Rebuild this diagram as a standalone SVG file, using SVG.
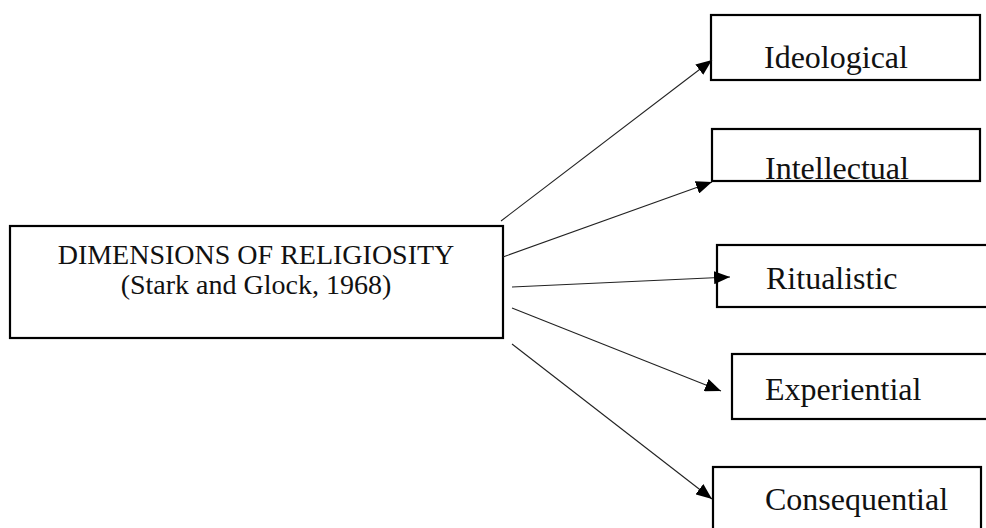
<svg xmlns="http://www.w3.org/2000/svg" width="986" height="528" viewBox="0 0 986 528">
<style>
.box{fill:#fff;stroke:#000;stroke-width:2.2}
.lbl{font-family:"Liberation Serif","Times New Roman",serif;font-size:32px;fill:#111}
.main{font-family:"Liberation Serif","Times New Roman",serif;font-size:28px;fill:#111;text-anchor:middle}
.conn{stroke:#222;stroke-width:1.1;fill:none;marker-end:url(#ah)}
</style>
<defs>
<marker id="ah" markerWidth="16" markerHeight="13" refX="16" refY="6.5" orient="auto" markerUnits="userSpaceOnUse">
<path d="M0,0 L16,6.5 L0,13 Z" fill="#000"/>
</marker>
</defs>
<rect width="986" height="528" fill="#fff"/>
<g id="main">
<rect class="box" x="10" y="226" width="493" height="112"/>
<text class="main" x="256" y="264">DIMENSIONS OF RELIGIOSITY</text>
<text class="main" x="256" y="294">(Stark and Glock, 1968)</text>
</g>
<g id="ideological">
<rect class="box" x="711" y="15" width="269" height="65"/>
<text class="lbl" x="764" y="68">Ideological</text>
</g>
<g id="intellectual">
<rect class="box" x="712" y="129" width="268" height="52"/>
<text class="lbl" x="765" y="179">Intellectual</text>
</g>
<g id="ritualistic">
<rect class="box" x="717" y="245" width="280" height="62"/>
<text class="lbl" x="766" y="289">Ritualistic</text>
</g>
<g id="experiential">
<rect class="box" x="732" y="354" width="265" height="65"/>
<text class="lbl" x="765" y="400">Experiential</text>
</g>
<g id="consequential">
<rect class="box" x="713" y="467" width="268" height="70"/>
<text class="lbl" x="765" y="510">Consequential</text>
</g>
<g id="connectors">
<line class="conn" x1="501" y1="221" x2="712" y2="60"/>
<line class="conn" x1="503" y1="257" x2="712" y2="182"/>
<line class="conn" x1="512" y1="287" x2="730" y2="277"/>
<line class="conn" x1="512" y1="308" x2="721" y2="391"/>
<line class="conn" x1="512" y1="344" x2="712" y2="499"/>
</g>
</svg>
